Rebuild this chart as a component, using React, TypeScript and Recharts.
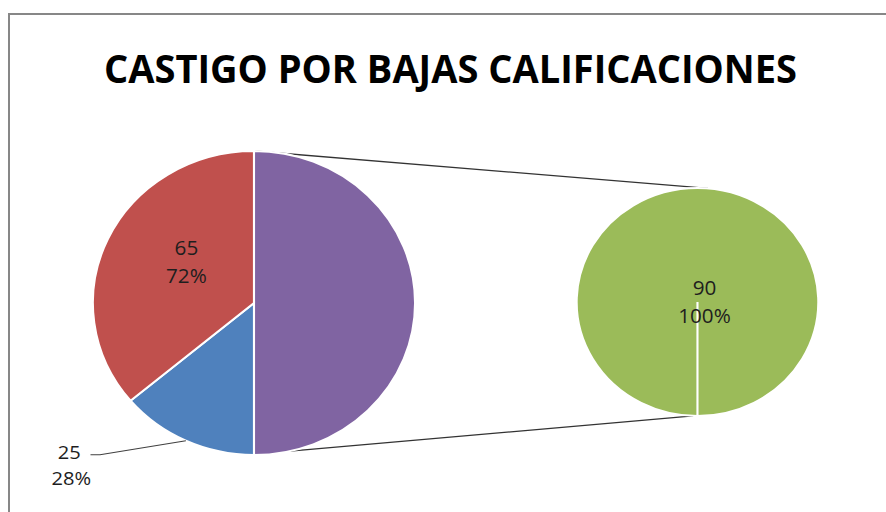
import React from 'react';
import { PieChart, Pie, Cell, Customized } from 'recharts';

// ---- data ----
const primaryNames = ['Otro', 'Serie 2', 'Serie 1'];
const primaryValues = [90, 25, 65];
const primaryPercentLabels = ['', '28%', '72%'];
const secondaryNames = ['Serie 3'];
const secondaryValues = [90];
const secondaryPercentLabels = ['100%'];
const primaryColors = ['#8064A2', '#4F81BD', '#C0504D'];
const secondaryColors = ['#9BBB59'];
const chartTitle = 'CASTIGO POR BAJAS CALIFICACIONES';

const primaryData = primaryNames.map((name, i) => ({ name, value: primaryValues[i], pct: primaryPercentLabels[i] }));
const secondaryData = secondaryNames.map((name, i) => ({ name, value: secondaryValues[i], pct: secondaryPercentLabels[i] }));

// ---- layout ----
const SX = 1.06;
const W = 886 / SX;
const H = 512;
const LP = { cx: 239.6, cy: 303, r: 152 };
const RP = { cx: 658, cy: 302, r: 114 };
const RAD = Math.PI / 180;
const FONT = '"Open Sans", "DejaVu Sans", sans-serif';
const TXT = '#1e1e1e';

const pt = (c: { cx: number; cy: number; r: number }, ang: number) => ({
  x: c.cx + c.r * Math.cos(ang * RAD),
  y: c.cy - c.r * Math.sin(ang * RAD),
});

const renderPrimaryLabel = (p: any) => {
  const { cx, cy, midAngle, outerRadius, index, value } = p;
  const pct = primaryPercentLabels[index];
  if (!pct) return null;
  if (index === 2) {
    const a = midAngle - 8;
    const x = cx + 0.5 * outerRadius * Math.cos(-a * RAD);
    const y = cy + 0.5 * outerRadius * Math.sin(-a * RAD);
    return (
      <g key={`pl-${index}`}>
        <text x={x} y={y - 14} textAnchor="middle" dominantBaseline="central" fontFamily={FONT} fontSize={19.5} fill={TXT}>{value}</text>
        <text x={x} y={y + 14} textAnchor="middle" dominantBaseline="central" fontFamily={FONT} fontSize={19.5} fill={TXT}>{pct}</text>
      </g>
    );
  }
  // outside label with leader line
  const sx = cx + outerRadius * Math.cos(-midAngle * RAD);
  const sy = cy + outerRadius * Math.sin(-midAngle * RAD);
  const ex = sx - 81;
  const ey = sy + 14;
  const hx = ex - 9;
  const tx = ex - 29;
  return (
    <g key={`pl-${index}`}>
      <polyline points={`${sx},${sy} ${ex},${ey} ${hx},${ey}`} fill="none" stroke="#404040" strokeWidth={1.2} />
      <text x={tx} y={ey - 3} textAnchor="middle" dominantBaseline="central" fontFamily={FONT} fontSize={19} fill={TXT}>{value}</text>
      <text x={tx + 2} y={ey + 23} textAnchor="middle" dominantBaseline="central" fontFamily={FONT} fontSize={19} fill={TXT}>{pct}</text>
    </g>
  );
};

const renderSecondaryLabel = (p: any) => {
  const { cx, cy, index, value } = p;
  const x = cx + 6.6;
  return (
    <g key={`sl-${index}`}>
      <text x={x} y={cy - 14} textAnchor="middle" dominantBaseline="central" fontFamily={FONT} fontSize={19.5} fill={TXT}>{value}</text>
      <text x={x} y={cy + 14} textAnchor="middle" dominantBaseline="central" fontFamily={FONT} fontSize={19.5} fill={TXT}>{secondaryPercentLabels[index]}</text>
    </g>
  );
};

const Decorations = () => {
  const t1 = pt(LP, 90);
  const t2 = pt(RP, 85);
  const b1 = pt(LP, -77);
  const b2 = pt(RP, -92);
  return (
    <g>
      <text
        x={450.5 / SX}
        y={83}
        textAnchor="middle"
        fontFamily={FONT}
        fontWeight={700}
        fontSize={40}
        fill="#000"
        textLength={693 / SX}
        lengthAdjust="spacingAndGlyphs"
      >
        {chartTitle}
      </text>
      <line x1={t1.x} y1={t1.y} x2={t2.x} y2={t2.y} stroke="#333" strokeWidth={1.3} />
      <line x1={b1.x} y1={b1.y} x2={b2.x} y2={b2.y} stroke="#333" strokeWidth={1.3} />
    </g>
  );
};

export default function App() {
  return (
    <div style={{ position: 'absolute', left: 0, top: 0, width: 886, height: 512, overflow: 'hidden', background: '#fff' }}>
      <div style={{ position: 'absolute', left: 8, top: 13, width: 878, height: 499, borderLeft: '2px solid #878787', borderTop: '2px solid #878787' }} />
      <div style={{ position: 'absolute', left: 0, top: 0, transform: `scaleX(${SX})`, transformOrigin: '0 0' }}>
        <PieChart width={W} height={H} margin={{ top: 0, right: 0, bottom: 0, left: 0 }}>
          <Customized component={Decorations} />
          <Pie
            data={primaryData}
            dataKey="value"
            nameKey="name"
            cx={LP.cx}
            cy={LP.cy}
            outerRadius={LP.r}
            startAngle={90}
            endAngle={-270}
            stroke="#fff"
            strokeWidth={2}
            label={renderPrimaryLabel}
            labelLine={false}
            isAnimationActive={false}
          >
            {primaryData.map((d, i) => (
              <Cell key={d.name} fill={primaryColors[i]} />
            ))}
          </Pie>
          <Pie
            data={secondaryData}
            dataKey="value"
            nameKey="name"
            cx={RP.cx}
            cy={RP.cy}
            outerRadius={RP.r}
            startAngle={-90}
            endAngle={270}
            stroke="#fff"
            strokeWidth={2}
            label={renderSecondaryLabel}
            labelLine={false}
            isAnimationActive={false}
          >
            {secondaryData.map((d, i) => (
              <Cell key={d.name} fill={secondaryColors[i]} />
            ))}
          </Pie>
        </PieChart>
      </div>
    </div>
  );
}
